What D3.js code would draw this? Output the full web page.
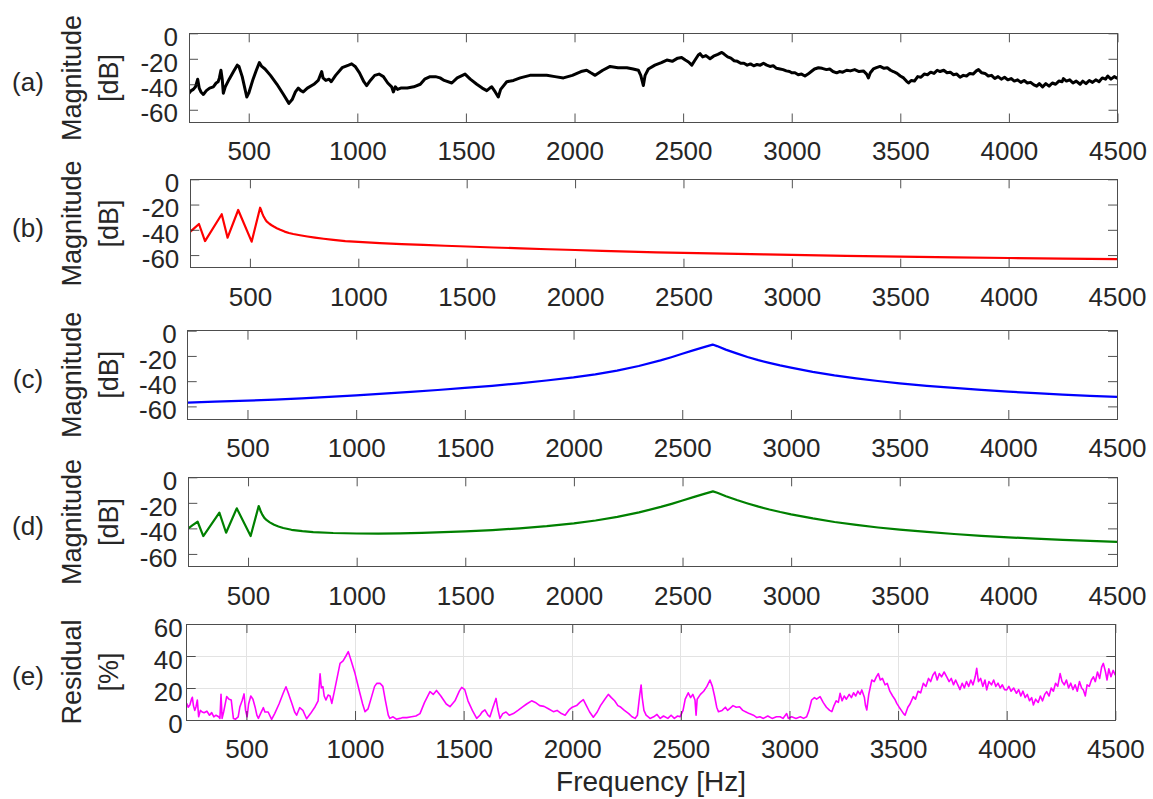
<!DOCTYPE html>
<html>
<head>
<meta charset="utf-8">
<title>Magnitude and residual</title>
<script src="https://cdn.jsdelivr.net/npm/d3@7"></script>
<style>
  body { margin: 0; background: #fff; }
  text { font-family: "Liberation Sans", Arial, Helvetica, sans-serif; fill: #262626; }
</style>
</head>
<body>
<script>
// ---- data ----
var freqTicks = [500, 1000, 1500, 2000, 2500, 3000, 3500, 4000, 4500];
var dbTicks = [-60, -40, -20, 0];
var residualTicks = [0, 20, 40, 60];
var panelLetters = ["(a)", "(b)", "(c)", "(d)", "(e)"];

// (a) measured magnitude [Hz, dB]
var measured = [
  [225,-47],[235,-45],[245,-44],[255,-42],[265,-36],[272,-43],[280,-46],[291,-48],[305,-45],[320,-43],
  [337,-42],[350,-39],[359,-38],[365,-35],[372,-29],[378,-36],[383,-47],[392,-42],[410,-36],[430,-30],
  [447,-25],[455,-26],[470,-34],[491,-50],[500,-47],[520,-36],[535,-29],[549,-23],[560,-26],[575,-28],
  [600,-33],[630,-40],[660,-48],[685,-55],[700,-52],[715,-46],[728,-43],[740,-45],[751,-46],[770,-43],
  [800,-40],[820,-37],[836,-30],[842,-35],[855,-37],[870,-36],[880,-38],[900,-33],[930,-27],[960,-25],
  [974,-24],[990,-26],[1010,-31],[1030,-38],[1043,-41],[1060,-37],[1080,-33],[1100,-32],[1120,-34],[1140,-39],
  [1158,-42],[1166,-46],[1175,-42],[1185,-44],[1200,-43],[1230,-43],[1260,-42],[1290,-40],[1310,-36],[1335,-34],
  [1360,-34],[1381,-35],[1400,-37],[1435,-39],[1460,-35],[1496,-32],[1520,-36],[1550,-40],[1575,-43],[1596,-45],
  [1610,-43],[1619,-42],[1635,-46],[1649,-50],[1660,-44],[1688,-38],[1719,-37],[1750,-35],[1795,-33],[1830,-33],
  [1872,-33],[1910,-34],[1949,-35],[1990,-33],[2030,-30],[2056,-29],[2075,-31],[2095,-33],[2130,-29],[2164,-26],
  [2200,-27],[2241,-27],[2270,-28],[2294,-29],[2305,-33],[2317,-41],[2325,-33],[2340,-28],[2370,-25],[2400,-23],
  [2425,-21],[2450,-22],[2475,-19.5],[2493,-19],[2510,-21],[2525,-22.5],[2540,-25],[2555,-21],[2570,-17],[2578,-16],
  [2590,-18.5],[2605,-17.5],[2624,-20],[2640,-18],[2660,-16.5],[2678,-15],[2690,-16.5],[2705,-18.5],[2720,-19.5],[2735,-21.5],
  [2750,-22],[2765,-23.5],[2780,-23.5],[2795,-25],[2810,-24],[2825,-25.5],[2840,-24.5],[2855,-25],[2870,-23.5],[2885,-25],
  [2900,-26],[2915,-25.5],[2930,-27.5],[2946,-28],[2960,-28.5],[2975,-29.5],[2990,-30],[3000,-31],[3015,-31],[3030,-32.5],
  [3045,-32],[3061,-33.5],[3075,-32],[3090,-30],[3105,-28],[3123,-27],[3140,-27.5],[3160,-28.5],[3175,-28],[3190,-30],
  [3207,-31],[3220,-30],[3235,-30.5],[3253,-29],[3270,-29.5],[3290,-28.5],[3310,-30],[3330,-29.5],[3345,-32],[3353,-35],
  [3362,-31],[3376,-28],[3390,-27],[3407,-26],[3425,-27.5],[3440,-27],[3455,-29],[3468,-30],[3485,-31.5],[3500,-33.5],
  [3515,-35],[3528,-37.5],[3538,-39],[3550,-37],[3565,-37.5],[3580,-34],[3595,-34.5],[3610,-32],[3625,-32.5],[3640,-30.5],
  [3655,-31.5],[3670,-29],[3683,-30],[3700,-29],[3715,-31],[3730,-30.5],[3745,-32.5],[3760,-32],[3775,-34.5],[3790,-33],
  [3805,-33.5],[3820,-31.5],[3835,-32],[3850,-29.5],[3860,-28.5],[3875,-31],[3890,-31.5],[3905,-33.5],[3920,-33],[3935,-35.5],
  [3950,-34],[3965,-36],[3980,-34.5],[3995,-36.5],[4010,-35.5],[4025,-37.5],[4040,-36.5],[4055,-38.5],[4070,-37],[4085,-39],
  [4100,-38.5],[4115,-40.5],[4128,-41.5],[4140,-39.5],[4155,-42],[4170,-39.5],[4185,-41.5],[4200,-39],[4215,-40],[4230,-37.5],
  [4245,-38],[4251,-35.5],[4265,-37.5],[4280,-36.5],[4295,-39],[4310,-37.5],[4328,-40],[4340,-37.5],[4355,-39.5],[4370,-37],
  [4385,-38.5],[4400,-36.5],[4415,-38],[4430,-35],[4445,-36],[4455,-33.5],[4470,-36],[4485,-34],[4500,-35.5]
];

// (b) low-frequency model [Hz, dB]
var modelLow = [
  [225,-41.5],[245,-38.5],[265,-35.4],[293,-48.9],[370,-27.7],[397,-46.2],[446,-24.3],[508,-49.4],[547,-22.5],
  [552,-24.5],[557,-27],[562,-29],[570,-31.5],[577,-33.3],[590,-35.2],[600,-36.4],[612,-37.6],[624,-38.7],
  [640,-40],[660,-41.4],[680,-42.5],[700,-43.3],[731,-44.3],[765,-45.3],[800,-46.2],[840,-47.1],[885,-48],
  [940,-48.9],[1000,-49.6],[1100,-50.5],[1200,-51.3],[1300,-52],[1400,-52.6],[1500,-53.2],[1625,-54],
  [1750,-54.7],[1875,-55.4],[2000,-56],[2125,-56.6],[2250,-57.2],[2375,-57.8],[2500,-58.3],[2625,-58.7],
  [2750,-59.1],[2875,-59.5],[3000,-59.9],[3250,-60.6],[3500,-61.2],[3750,-61.8],[4000,-62.3],[4250,-62.8],[4500,-63.2]
];

// (c) single resonance model [Hz, dB]
var modelPeak = [
  [225,-57],[350,-56.3],[500,-55.5],[625,-54.6],[750,-53.6],[875,-52.4],[1000,-51.2],[1125,-49.9],[1250,-48.5],
  [1375,-47],[1500,-45.4],[1625,-43.7],[1750,-41.7],[1875,-39.5],[2000,-37],[2100,-34.6],[2200,-31.7],[2300,-28],
  [2400,-23.5],[2450,-21],[2500,-18.3],[2550,-15.6],[2600,-13],[2640,-11],[2660,-12.2],[2700,-15],[2750,-18],
  [2800,-20.8],[2850,-23.3],[2900,-25.5],[2950,-27.5],[3000,-29.3],[3100,-32.6],[3200,-35.4],[3300,-37.8],
  [3400,-39.9],[3500,-41.7],[3625,-43.7],[3750,-45.4],[3875,-46.9],[4000,-48.3],[4125,-49.5],[4250,-50.6],
  [4375,-51.6],[4500,-52.5]
];

// (d) combined model [Hz, dB]
var modelSum = [
  [225,-40],[245,-37.5],[268,-34.8],[294,-46],[368,-27.7],[399,-43.4],[448,-24.3],[512,-46],[549,-22.5],
  [554,-24.5],[559,-27],[565,-29],[575,-31.8],[586,-33.6],[600,-35.3],[620,-37.2],[640,-38.5],[662,-39.7],
  [700,-41.1],[750,-42.2],[800,-42.9],[892,-43.6],[1000,-44],[1100,-44.1],[1200,-43.9],[1300,-43.5],[1400,-43],
  [1500,-42.4],[1625,-41.3],[1750,-40],[1875,-38.3],[2000,-36.1],[2100,-33.8],[2200,-31],[2300,-27.5],
  [2400,-23.2],[2450,-20.8],[2500,-18.2],[2550,-15.5],[2600,-13],[2640,-11],[2660,-12.1],[2700,-14.8],
  [2750,-17.8],[2800,-20.5],[2850,-23],[2900,-25.2],[2950,-27.2],[3000,-29],[3100,-32.2],[3200,-35],
  [3300,-37.3],[3400,-39.3],[3500,-41],[3625,-42.8],[3750,-44.4],[3875,-45.8],[4000,-47],[4125,-48],
  [4250,-49],[4375,-49.8],[4500,-50.5]
];

// (e) residual [Hz, %]
var residual = [
  [225,10.4],[232,8],[240,9.5],[247,13],[251,14.2],[256,9],[262,6],[268,8.3],[274,12.5],[280,2],[288,6],[296,5],
  [305,4.5],[318,5.5],[330,3],[340,4.6],[350,2],[360,3],[372,2],[378,1],[383,16],[388,1],[395,5],[409,14.6],
  [420,13],[430,12.5],[440,1],[450,0.5],[462,2],[470,8.3],[480,12],[489,16.3],[496,6],[503,2],[510,10],[520,15],
  [530,13],[540,8],[548,3],[555,1],[565,4],[578,7.7],[585,5],[600,5],[616,0.4],[630,4],[650,10],[670,17],
  [682,20.8],[695,16],[710,10],[722,5],[731,3],[745,7.7],[760,6],[777,0.8],[795,4],[816,8.3],[830,12],[839,28.8],
  [845,20],[852,20.8],[858,15],[866,12.5],[876,15.6],[885,15],[893,10.4],[905,18],[920,28],[931,35.4],[945,37],
  [958,40],[969,42.7],[980,38],[1000,29],[1020,18],[1035,10],[1046,5.2],[1060,7],[1075,14],[1090,21],[1100,22.9],
  [1115,23],[1128,21],[1140,12],[1153,3],[1160,1],[1175,2],[1190,0.5],[1207,1],[1220,1.5],[1238,1.5],[1260,2],
  [1280,2.5],[1299,4],[1320,11],[1345,17.7],[1360,16],[1375,18.5],[1395,15],[1420,10],[1437,8.3],[1460,12],
  [1480,18],[1491,20.4],[1505,19],[1520,12],[1540,6],[1560,1],[1575,3],[1585,5],[1598,6.3],[1612,3],[1621,2],
  [1635,8],[1649,13.5],[1657,7],[1667,1],[1680,4],[1695,5],[1710,3],[1729,4],[1750,6],[1770,8],[1790,10],
  [1813,12],[1830,11],[1850,9],[1870,8.5],[1890,7],[1913,5.2],[1930,6],[1950,4],[1967,3],[1985,6.3],[2000,8],
  [2020,9],[2035,11],[2051,12.7],[2065,9],[2080,5],[2097,1.7],[2115,5],[2130,9],[2150,13],[2166,16],[2180,14],
  [2195,12],[2210,9],[2220,8.3],[2240,6],[2260,4],[2275,2],[2289,1],[2300,3],[2310,15],[2317,21.9],[2322,14],
  [2330,6],[2340,3],[2358,1],[2375,2],[2390,3.5],[2405,1],[2420,2.5],[2440,1],[2455,3],[2470,1],[2485,2.5],
  [2496,2],[2510,6],[2520,13],[2534,17],[2545,14],[2555,16],[2565,12.5],[2570,3],[2575,13],[2590,16],[2605,18],
  [2620,21],[2634,25],[2645,21],[2655,15],[2665,8],[2673,5.2],[2690,6],[2705,8],[2715,6],[2726,7.3],[2740,9],
  [2755,8],[2770,8.3],[2785,6],[2800,5],[2815,4],[2834,3],[2850,1.5],[2864,2],[2880,1],[2900,2.5],[2920,1],
  [2940,2],[2957,2],[2970,1],[2987,4],[2995,1],[3010,2],[3030,1],[3050,2],[3065,1],[3079,2],[3090,6],[3102,12.5],
  [3115,14],[3125,13],[3141,14.6],[3155,11],[3170,8],[3185,6],[3195,5.2],[3205,9],[3215,12],[3225,11],[3233,16.7],
  [3242,12],[3252,15],[3262,13],[3275,16],[3285,14],[3295,17],[3305,15],[3315,18],[3325,16],[3333,18.8],[3345,14],
  [3350,9],[3356,6.3],[3365,16],[3379,25],[3390,24],[3400,27],[3409,29],[3418,25],[3428,26],[3440,22],[3450,22.9],
  [3462,18],[3475,15],[3485,13],[3494,10.4],[3505,8],[3515,6],[3525,4],[3532,3],[3545,8],[3555,10],[3570,14.6],
  [3580,13],[3592,18],[3604,17],[3616,22.9],[3628,21],[3640,26],[3650,24],[3660,28],[3670,30],[3680,25],[3690,29],
  [3700,27],[3712,30],[3724,27],[3735,24],[3745,26],[3755,22],[3765,25],[3775,21.9],[3785,19],[3795,23],[3805,20],
  [3815,24],[3825,21],[3835,25],[3845,22],[3855,27],[3862,32.3],[3870,24],[3880,26],[3890,21],[3900,25],[3908,18.8],
  [3918,24],[3930,22],[3940,25],[3950,21],[3960,23],[3970,20],[3980,22],[3990,19],[4000,18.8],[4010,21],[4020,18],
  [4032,20],[4045,16.7],[4055,19],[4065,15],[4075,18],[4085,14],[4095,16],[4105,12],[4115,14],[4123,9.4],[4133,13],
  [4145,11],[4155,15],[4165,12],[4175,16],[4184,17.7],[4195,15],[4205,20],[4215,18],[4225,23],[4235,21],[4246,29],
  [4255,24],[4265,22],[4275,25],[4285,20],[4295,23],[4305,19],[4315,22],[4325,18],[4335,24],[4345,20],[4353,18.8],
  [4362,15],[4370,22],[4380,21],[4390,25],[4399,27],[4408,24],[4418,30],[4428,26],[4437,33],[4445,35.4],[4455,30],
  [4462,25],[4470,32],[4480,27],[4490,31],[4500,28]
];

// ---- layout ----
var W = 1153, H = 799;
var panels = [
  {data: measured,  color: "#000000", width: 3,   left: 189,   right: 1117.5, top: 33.3,  bottom: 122.5, y: [-70, 0], ticks: dbTicks, label: ["Magnitude", "[dB]"], pad: 11},
  {data: modelLow,  color: "#ff0000", width: 2.2, left: 190.3, right: 1117,   top: 179.3, bottom: 267.7, y: [-70, 0], ticks: dbTicks, label: ["Magnitude", "[dB]"], pad: 11},
  {data: modelPeak, color: "#0000ff", width: 2.2, left: 187.7, right: 1117,   top: 330.7, bottom: 419,   y: [-70, 0], ticks: dbTicks, label: ["Magnitude", "[dB]"], pad: 11},
  {data: modelSum,  color: "#008000", width: 2.2, left: 188.3, right: 1117,   top: 477.3, bottom: 566.7, y: [-70, 0], ticks: dbTicks, label: ["Magnitude", "[dB]"], pad: 11},
  {data: residual,  color: "#ff00ff", width: 1.6, left: 186.7, right: 1115.3, top: 624,   bottom: 720,   y: [0, 60],  ticks: residualTicks, label: ["Residual", "[%]"], pad: 4, grid: true}
];

var svg = d3.select("body").append("svg")
  .attr("width", W)
  .attr("height", H);

var tickLen = 9;
var fmt = d3.format("d");

panels.forEach(function(p, i) {
  var x = d3.scaleLinear().domain([225, 4500]).range([p.left, p.right]);
  var y = d3.scaleLinear().domain(p.y).range([p.bottom, p.top]);
  var g = svg.append("g");

  if (p.grid) {
    g.selectAll(".gx").data(freqTicks).enter().append("line")
      .attr("x1", function(d) { return x(d); }).attr("x2", function(d) { return x(d); })
      .attr("y1", p.top).attr("y2", p.bottom)
      .attr("stroke", "#e3e3e3").attr("stroke-width", 1).attr("shape-rendering", "crispEdges");
    g.selectAll(".gy").data(p.ticks).enter().append("line")
      .attr("y1", function(d) { return y(d); }).attr("y2", function(d) { return y(d); })
      .attr("x1", p.left).attr("x2", p.right)
      .attr("stroke", "#e3e3e3").attr("stroke-width", 1).attr("shape-rendering", "crispEdges");
  }

  svg.append("clipPath").attr("id", "clip" + i).append("rect")
    .attr("x", p.left).attr("y", p.top)
    .attr("width", p.right - p.left).attr("height", p.bottom - p.top);

  var line = d3.line()
    .x(function(d) { return x(d[0]); })
    .y(function(d) { return y(d[1]); });

  g.append("path")
    .datum(p.data)
    .attr("clip-path", "url(#clip" + i + ")")
    .attr("fill", "none")
    .attr("stroke", p.color)
    .attr("stroke-width", p.width)
    .attr("stroke-linejoin", "round")
    .attr("d", line);

  // axes, ticks pointing inward
  g.append("g").attr("transform", "translate(0," + p.bottom + ")")
    .call(d3.axisBottom(x).tickValues(freqTicks).tickFormat(fmt).tickSize(-tickLen).tickSizeOuter(0).tickPadding(19.5));
  g.append("g").attr("transform", "translate(0," + p.top + ")")
    .call(d3.axisTop(x).tickValues(freqTicks).tickSize(-tickLen).tickSizeOuter(0).tickFormat(""));
  var leftAx = g.append("g").attr("transform", "translate(" + p.left + ",0)")
    .call(d3.axisLeft(y).tickValues(p.ticks).tickSize(-tickLen).tickSizeOuter(0).tickPadding(p.pad));
  g.append("g").attr("transform", "translate(" + p.right + ",0)")
    .call(d3.axisRight(y).tickValues(p.ticks).tickSize(-tickLen).tickSizeOuter(0).tickFormat(""));

  g.selectAll(".domain").remove();
  g.selectAll(".tick line").attr("stroke", "#262626").attr("stroke-width", 0.8);
  g.selectAll(".tick text").attr("font-size", 26).attr("fill", "#262626")
    .style("font-family", '"Liberation Sans", Arial, sans-serif');
  leftAx.selectAll("text").attr("dy", "0.47em")
    .text(function(d) { return d < 0 ? "-" + Math.abs(d) : d; });

  g.append("rect")
    .attr("x", p.left).attr("y", p.top)
    .attr("width", p.right - p.left).attr("height", p.bottom - p.top)
    .attr("fill", "none").attr("stroke", "#4d4d4d").attr("stroke-width", 1)
    .attr("shape-rendering", "crispEdges");

  var cy = (p.top + p.bottom) / 2;
  g.append("text")
    .attr("transform", "translate(81," + cy + ") rotate(-90)")
    .attr("text-anchor", "middle").attr("font-size", 27)
    .text(p.label[0]);
  g.append("text")
    .attr("transform", "translate(118," + cy + ") rotate(-90)")
    .attr("text-anchor", "middle").attr("font-size", 27)
    .text(p.label[1]);

  g.append("text")
    .attr("x", 28).attr("y", cy + 4)
    .attr("dy", "0.35em")
    .attr("text-anchor", "middle").attr("font-size", 26)
    .text(panelLetters[i]);
});

svg.append("text")
  .attr("x", 651).attr("y", 791)
  .attr("text-anchor", "middle").attr("font-size", 28)
  .text("Frequency [Hz]");
</script>
</body>
</html>
